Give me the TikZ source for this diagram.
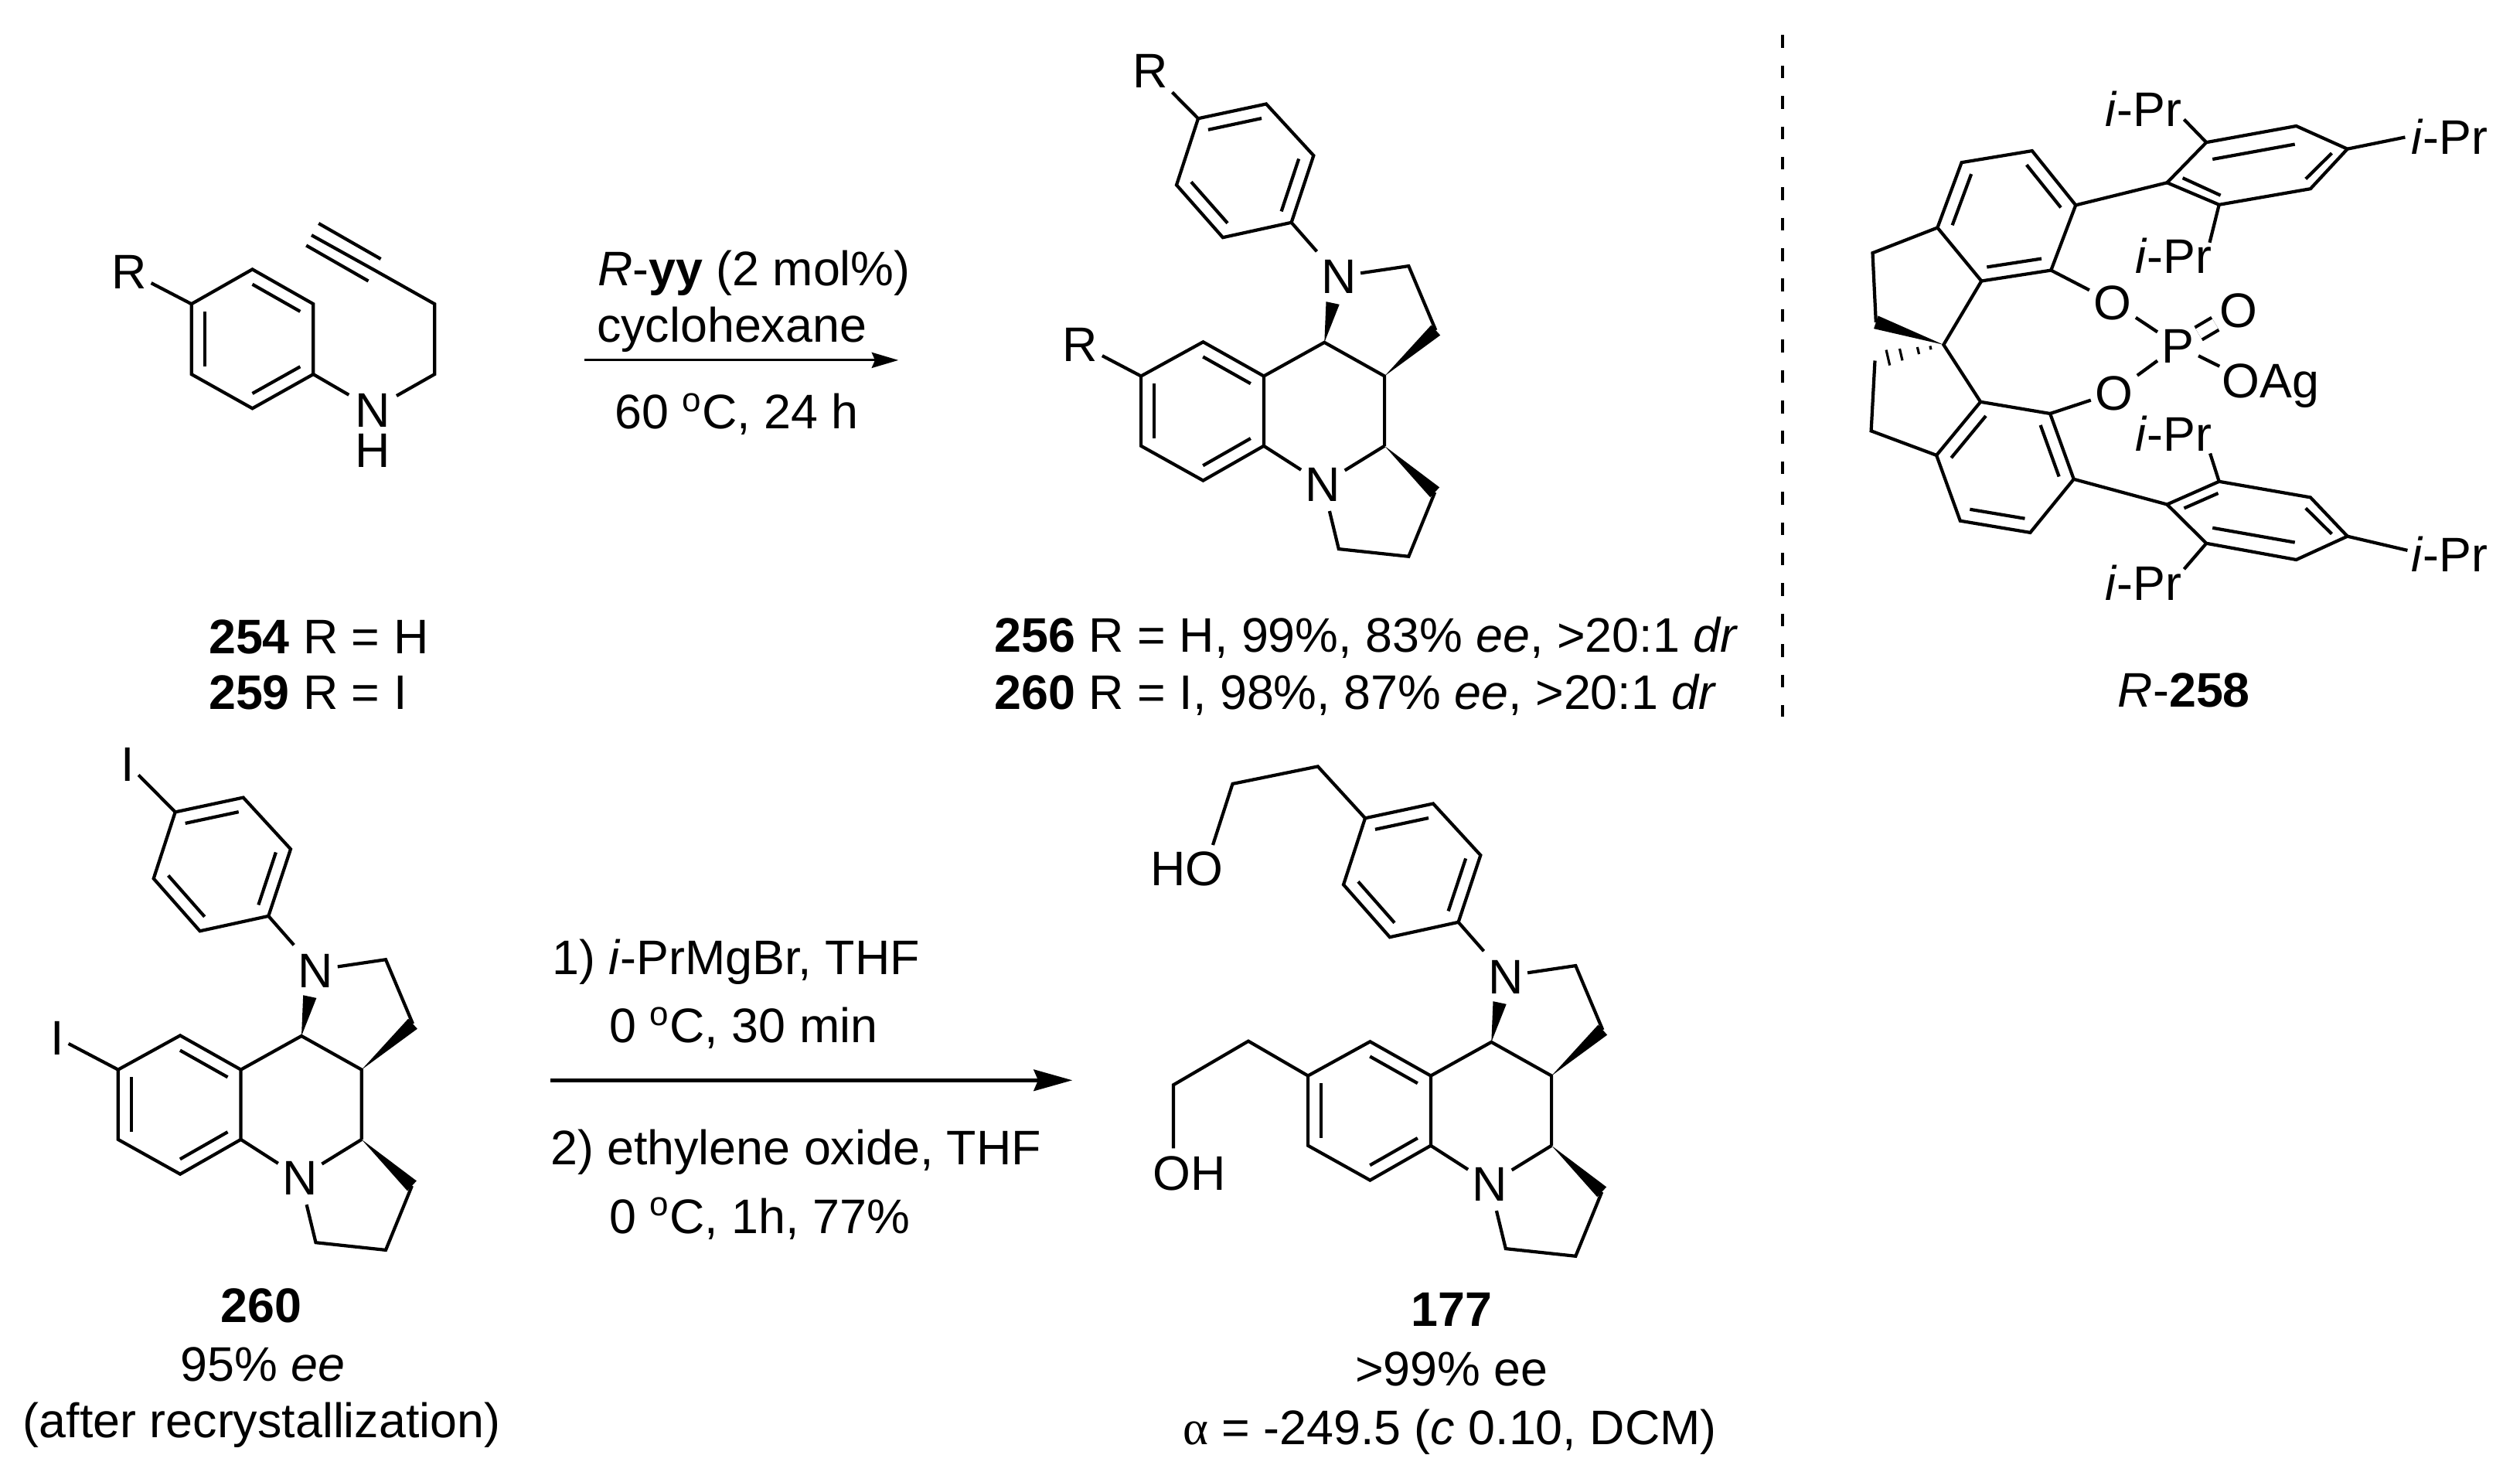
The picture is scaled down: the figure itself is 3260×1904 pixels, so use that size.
\documentclass[tikz,border=0pt]{standalone}
\usepackage{fontspec}
\setmainfont{Liberation Sans}
\newfontfamily\greekfont{Liberation Serif}
\usetikzlibrary{arrows.meta,calc}

% one line inside a ring, #3 is the middle of the ring
\newcommand{\innerbond}[3]{\draw ($(#1)!.215!(#3)$) -- ($(#2)!.215!(#3)$);}
\newcommand{\wedgebond}[2]{\fill (#1) -- ($(#2)!2.5pt!90:(#1)$) -- ($(#2)!2.5pt!-90:(#1)$) -- cycle;}

\tikzset{
    every node/.style={font=\fontsize{17.85}{21}\selectfont},
    atom/.style={inner xsep=1pt,inner ysep=3pt,text height=12.8pt,text depth=0pt},
    lab/.style={anchor=base west,inner sep=0pt},
    labmid/.style={anchor=base,inner sep=0pt},
    pics/tricycle/.style={code={
        \coordinate (c9b) at (0,0);
        \coordinate (c9a) at (-78.4,43.6);
        \coordinate (c9) at (-156.9,-.6);
        \coordinate (c8) at (-237.2,43.6);
        \coordinate (c7) at (-237.2,133.9);
        \coordinate (c6) at (-156.9,178.7);
        \coordinate (c5a) at (-78.4,133.9);
        \coordinate (benz) at (-157.8,88.7);
        \coordinate (c3a) at (77.8,43.6);
        \coordinate (c10a) at (77.8,133.9);
        \coordinate (c2) at (109,-98.8);
        \coordinate (c3) at (144,-15.8);
        \coordinate (c1) at (142.9,193.9);
        \coordinate (c12) at (109,276.9);
        \coordinate (c11) at (18.5,267.2);
        \coordinate (w1) at (10.8,-50.9);
        \coordinate (ar1) at (-163.3,-289.6);
        \coordinate (ar2) at (-75.3,-308.4);
        \coordinate (ar3) at (-14,-241.7);
        \coordinate (ar4) at (-42.7,-155.1);
        \coordinate (ar5) at (-131.4,-135.7);
        \coordinate (ar6) at (-191.3,-203.6);
        \coordinate (arm) at (-103,-222);
        \node[atom] (n1) at (18.5,-85.4) {N};
        \node[atom] (n10) at (-1.9,183) {N};

        \draw (ar1) -- (ar2) -- (ar3) -- (ar4) -- (ar5) -- (ar6) -- cycle;
        \innerbond{ar1}{ar2}{arm}
        \innerbond{ar3}{ar4}{arm}
        \innerbond{ar5}{ar6}{arm}
        \draw (ar4) -- (n1);
        \draw (n1) -- (c2) -- (c3);
        \wedgebond{c9b}{w1}
        \wedgebond{c3a}{c3}
        \draw (c9a) -- (c9) -- (c8) -- (c7) -- (c6) -- (c5a) -- cycle;
        \innerbond{c9a}{c9}{benz}
        \innerbond{c8}{c7}{benz}
        \innerbond{c6}{c5a}{benz}
        \draw (c9a) -- (c9b) -- (c3a) -- (c10a);
        \draw (c5a) -- (n10);
        \draw (n10) -- (c10a);
        \wedgebond{c10a}{c1}
        \draw (c1) -- (c12) -- (c11) -- (n10);
    }},
}

\begin{document}
\begin{tikzpicture}[x=.01cm,y=-.01cm,line width=1.2pt]

    \useasboundingbox (0,0) rectangle (3260,1904);

    % alkyne
    \coordinate (s1) at (326.5,348.4);
    \coordinate (s2) at (405.3,393.2);
    \coordinate (s3) at (405.3,484.1);
    \coordinate (s4) at (326.5,528.3);
    \coordinate (s5) at (247.7,484.1);
    \coordinate (s6) at (247.7,393.2);
    \coordinate (sm) at (326.5,438.4);
    \coordinate (s7) at (562.2,484.1);
    \coordinate (s8) at (562.2,393.2);
    \coordinate (s9) at (482.6,348.4);
    \coordinate (s10) at (403,304.2);
    \coordinate (sn1) at (451.3,510.8);
    \coordinate (sn2) at (513,512);
    \node[atom] (sr) at (167.3,351.4) {R};
    \node[align=center,inner sep=0pt,font=\fontsize{17.85}{14.7}\selectfont] (sn) at (482.6,556.6) {N\\H};
    \draw (s1) -- (s2) -- (s3) -- (s4) -- (s5) -- (s6) -- cycle;
    \innerbond{s1}{s2}{sm}
    \innerbond{s3}{s4}{sm}
    \innerbond{s5}{s6}{sm}
    \draw (sr) -- (s6);
    \draw (s3) -- (sn1);
    \draw (sn2) -- (s7) -- (s8) -- (s9) -- (s10);
    \draw (412.2,289) -- (492.6,335);
    \draw (396.2,317.5) -- (476.5,363.5);
    \node[lab] (l254) at (268,845.2) {\textbf{254} R = H};
    \node[lab] (l259) at (268,917.9) {\textbf{259} R = I};

    % first arrow
    \coordinate (ra1) at (755.9,465.9);
    \coordinate (ra2) at (1162.2,465.9);
    \draw[line width=.85pt,-{Stealth[length=9.8pt,width=5.7pt,inset=1.2pt]}] (ra1) -- (ra2);
    \node[lab] (cond1) at (771,369.6) {\textit{R}-\textbf{yy} (2 mol\%)};
    \node[lab] (cond2) at (770,442.3) {cyclohexane};
    \node[lab] (cond3) at (793,554.4) {60 \textsuperscript{o}C, 24 h};

    % product
    \pic (pa) at (1713.3,442.9) {tricycle};
    \node[atom] (par) at (1488.2,90.9) {R};
    \node[atom] (pas) at (1397.6,445.3) {R};
    \draw (par) -- (paar1);
    \draw (pas) -- (pac8);
    \node[lab] (l256) at (1284.7,843.4) {\textbf{256} R = H, 99\%, 83\% \textit{ee}, >20:1 \textit{dr}};
    \node[lab] (l260) at (1284.7,917.9) {\textbf{260} R = I, 98\%, 87\% \textit{ee}, >20:1 \textit{dr}};

    \coordinate (dash1) at (2306,45.4);
    \coordinate (dash2) at (2306,927);
    \draw[line width=1.25pt,dash pattern=on 4.7pt off 6.5pt] (dash1) -- (dash2);

    % catalyst
    \coordinate (u1) at (2537.6,210.2);
    \coordinate (u2) at (2628.8,195.1);
    \coordinate (u3) at (2685.2,265.4);
    \coordinate (u4) at (2653.3,349.6);
    \coordinate (u5) at (2563.3,363.5);
    \coordinate (u6) at (2506.4,294.5);
    \coordinate (um) at (2595.8,279.7);
    \coordinate (u7) at (2422.5,327.2);
    \coordinate (u8) at (2426.8,416.8);
    \coordinate (sp) at (2514.3,445.9);
    \coordinate (d8) at (2425.5,466.5);
    \coordinate (d7) at (2420.6,557.4);
    \coordinate (d6) at (2505.1,588.9);
    \coordinate (d5) at (2562.1,519.8);
    \coordinate (d4) at (2652.1,535);
    \coordinate (d3) at (2682.7,619.8);
    \coordinate (d2) at (2626.4,688.9);
    \coordinate (d1) at (2535.8,673.7);
    \coordinate (dm) at (2594,604.4);
    \node[atom] (o1) at (2732.9,390.8) {O};
    \node[atom] (o2) at (2734.8,507.7) {O};
    \node[atom] (phos) at (2817.5,447.1) {P};
    \node[atom] (oxo) at (2895.8,401.1) {O};
    \node[atom] (oag) at (2937.2,492) {OAg};
    \coordinate (oagend) at (2871.3,473.8);

    \draw (u1) -- (u2) -- (u3) -- (u4) -- (u5) -- (u6) -- cycle;
    \innerbond{u6}{u1}{um}
    \innerbond{u2}{u3}{um}
    \innerbond{u4}{u5}{um}
    \draw (u6) -- (u7) -- (u8);
    \draw (u5) -- (sp) -- (d5);
    \wedgebond{sp}{u8}
    \coordinate (hb1) at ($(d8)!3.6pt!90:(sp)$);
    \coordinate (hb2) at ($(d8)!3.6pt!-90:(sp)$);
    \foreach \t in {.19,.37,.62,.81}
        \draw[line width=.9pt] ($(sp)!\t!(hb1)$) -- ($(sp)!\t!(hb2)$);
    \draw (d8) -- (d7) -- (d6);
    \draw (d1) -- (d2) -- (d3) -- (d4) -- (d5) -- (d6) -- cycle;
    \innerbond{d5}{d6}{dm}
    \innerbond{d4}{d3}{dm}
    \innerbond{d1}{d2}{dm}
    \draw (u4) -- (o1);
    \draw (o1) -- (phos);
    \draw (phos) -- (o2);
    \draw (o2) -- (d4);
    \draw[double,double distance=4pt] (phos) -- (oxo);
    \draw (phos) -- (oagend);

    % top aryl of the catalyst
    \coordinate (a1) at (2803.4,236.3);
    \coordinate (a2) at (2854.2,184.2);
    \coordinate (a3) at (2970.5,163);
    \coordinate (a4) at (3036.7,192.7);
    \coordinate (a5) at (2988.9,244.2);
    \coordinate (a6) at (2870.7,264.8);
    \draw (a1) -- (a2) -- (a3) -- (a4) -- (a5) -- (a6) -- cycle;
    \draw (2862.2,206) -- (2968.7,186.6);
    \draw (3016.5,198.1) -- (2982.8,231.4);
    \draw (2823.6,230.2) -- (2872.6,252.7);
    \draw (u3) -- (a1);
    \node[atom] (ipr1) at (2772.8,141.2) {\textit{i}-Pr};
    \node[atom] (ipr2) at (3169,177.5) {\textit{i}-Pr};
    \node[atom] (ipr3) at (2812,331.4) {\textit{i}-Pr};
    \coordinate (e1) at (2825.4,154.5);
    \coordinate (e2) at (3111.4,177.5);
    \coordinate (e3) at (2858.5,313.8);
    \draw (a2) -- (e1);
    \draw (a4) -- (e2);
    \draw (a6) -- (e3);

    % bottom aryl of the catalyst
    \coordinate (b1) at (2803.4,652.5);
    \coordinate (b2) at (2870.7,622.8);
    \coordinate (b3) at (2988.9,643.4);
    \coordinate (b4) at (3036.7,693.7);
    \coordinate (b5) at (2970.5,724);
    \coordinate (b6) at (2854.2,702.8);
    \draw (b1) -- (b2) -- (b3) -- (b4) -- (b5) -- (b6) -- cycle;
    \draw (2825.4,657.4) -- (2869.5,638);
    \draw (2982.8,657.4) -- (3016.5,690.7);
    \draw (2862.2,682.8) -- (2968.7,701.6);
    \draw (d3) -- (b1);
    \node[atom] (ipr4) at (2812,561) {\textit{i}-Pr};
    \node[atom] (ipr5) at (3169,716.8) {\textit{i}-Pr};
    \node[atom] (ipr6) at (2772.8,754.3) {\textit{i}-Pr};
    \coordinate (e4) at (2859.1,586.5);
    \coordinate (e5) at (3114.4,711.9);
    \coordinate (e6) at (2825.4,736.2);
    \draw (b2) -- (e4);
    \draw (b4) -- (e5);
    \draw (b6) -- (e6);
    \node[lab] (l258) at (2737.8,914.9) {\textit{R}-\textbf{258}};

    % iodide
    \pic (pb) at (390,1340) {tricycle};
    \node[atom] (pbr) at (164.9,988) {I};
    \node[atom] (pbs) at (74.3,1342.4) {I};
    \draw (pbr) -- (pbar1);
    \draw (pbs) -- (pbc8);
    \node[labmid] (l260b) at (338,1710.5) {\textbf{260}};
    \node[labmid] (l95) at (340,1786.6) {95\% \textit{ee}};
    \node[labmid] (lrec) at (338.7,1859.6) {(after recrystallization)};

    % second arrow
    \coordinate (rb1) at (712,1397.3);
    \coordinate (rb2) at (1387.3,1397.3);
    \draw[line width=1.42pt,-{Stealth[length=14.2pt,width=7.8pt,inset=1.6pt]}] (rb1) -- (rb2);
    \node[lab] (step1) at (712,1260.3) {1) \textit{i}-PrMgBr, THF};
    \node[lab] (step2) at (786,1348.5) {0 \textsuperscript{o}C, 30 min};
    \node[lab] (step3) at (710,1506.7) {2) ethylene oxide, THF};
    \node[lab] (step4) at (786,1595) {0 \textsuperscript{o}C, 1h, 77\%};

    % diol
    \pic (pc) at (1929.3,1347.9) {tricycle};
    \coordinate (h1) at (1704.8,991.4);
    \coordinate (h2) at (1594.5,1013.9);
    \coordinate (h3) at (1569,1093);
    \coordinate (k1) at (1614.9,1346.7);
    \coordinate (k2) at (1518,1403.3);
    \coordinate (k3) at (1518,1485.4);
    \node[atom] (ho) at (1535.2,1123.4) {HO};
    \node[atom] (oh) at (1539,1517) {OH};
    \draw (pcar1) -- (h1) -- (h2) -- (h3);
    \draw (pcc8) -- (k1) -- (k2) -- (k3);
    \node[labmid] (l177) at (1878,1715.4) {\textbf{177}};
    \node[labmid] (l99) at (1878,1792.7) {>99\% ee};
    \node[lab] (lrot) at (1528,1868.7) {{\greekfont α} = -249.5 (\textit{c} 0.10, DCM)};

\end{tikzpicture}
\end{document}
